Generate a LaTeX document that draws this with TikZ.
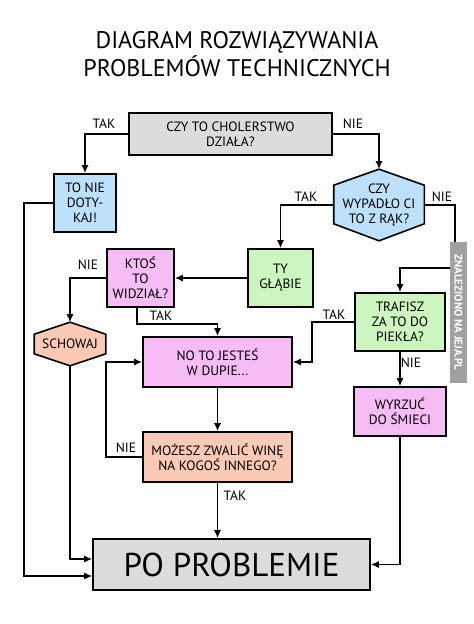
\documentclass[tikz,border=0pt]{standalone}
\usepackage{fontspec}
\setmainfont{PT Sans}
\usetikzlibrary{arrows.meta,positioning,calc,backgrounds}
\definecolor{boxgray}{RGB}{220,220,220}
\definecolor{boxblue}{RGB}{190,224,250}
\definecolor{boxgreen}{RGB}{204,245,192}
\definecolor{boxpink}{RGB}{245,188,245}
\definecolor{boxsalmon}{RGB}{250,202,182}
\definecolor{markgray}{RGB}{160,160,160}
\tikzset{
    % Basic box style
    box/.style={
        rectangle, draw=black, line width=1.6pt,
        align=center, inner sep=0pt,
        font=\fontsize{13.5}{15}\selectfont
    },
    graybox/.style={box, fill=boxgray},
    bluebox/.style={box, fill=boxblue},
    greenbox/.style={box, fill=boxgreen},
    pinkbox/.style={box, fill=boxpink},
    salmonbox/.style={box, fill=boxsalmon},
    % Hexagon (outline drawn separately)
    hexbox/.style={box, draw=none},
    hexline/.style={draw=black, line width=1.6pt},
    % Answer label style
    answer/.style={
        font=\fontsize{13.5}{15}\selectfont, inner sep=0pt
    },
    % Title style
    title/.style={
        align=center, font=\fontsize{24}{28}\selectfont
    },
    % Watermark style
    watermark/.style={
        rectangle, fill=markgray, text=white, rotate=-90,
        minimum width=141pt, minimum height=17pt, inner sep=0pt,
        font=\fontsize{11}{12}\selectfont\bfseries
    },
    % Flow arrows
    flow/.style={
        ->, >={Latex[length=8pt,width=7pt]}, line width=1.5pt, draw=black
    }
}
\begin{document}
\begin{tikzpicture}[x=1pt,y=-1pt]
\useasboundingbox (0,0) rectangle (474,624);

\node[title] (title) at (237,54) {DIAGRAM ROZWIĄZYWANIA\\PROBLEMÓW TECHNICZNYCH};

% Questions and answers
\node[graybox, minimum width=203pt, minimum height=42pt] (dziala) at (230.5,134) {CZY TO CHOLERSTWO\\DZIAŁA?};
\node[bluebox, minimum width=62pt, minimum height=58pt] (nietykaj) at (85,203) {TO NIE\\DOTY-\\KAJ!};
\node[hexbox, minimum width=89pt, minimum height=70pt] (wypadlo) at (379,205) {CZY\\WYPADŁO CI\\TO Z RĄK?};
\node[greenbox, minimum width=65pt, minimum height=58pt] (glab) at (280.5,278) {TY\\GŁĄBIE};
\node[pinkbox, minimum width=67pt, minimum height=58pt] (widzial) at (140.5,278) {KTOŚ\\TO\\WIDZIAŁ?};
\node[hexbox, minimum width=70pt, minimum height=42pt] (schowaj) at (70,344) {SCHOWAJ};
\node[greenbox, minimum width=90pt, minimum height=58pt] (pieklo) at (400,322) {TRAFISZ\\ZA TO DO\\PIEKŁA?};
\node[pinkbox, minimum width=149pt, minimum height=50pt] (dupa) at (217.5,362) {NO TO JESTEŚ\\W DUPIE...};
\node[pinkbox, minimum width=92pt, minimum height=49pt] (smieci) at (400,411.5) {WYRZUĆ\\DO ŚMIECI};
\node[salmonbox, minimum width=149pt, minimum height=50pt] (zwalic) at (217.5,457) {MOŻESZ ZWALIĆ WINĘ\\NA KOGOŚ INNEGO?};
\node[graybox, minimum width=277pt, minimum height=51pt, font=\fontsize{33}{34}\selectfont] (koniec) at (231.5,564.5) {PO PROBLEMIE};

% Hexagon outlines
\begin{scope}[on background layer]
\draw[hexline, fill=boxblue] (wypadlo.north) -- ([yshift=-16pt]wypadlo.north east) -- ([yshift=17pt]wypadlo.south east)
    -- (wypadlo.south) -- ([yshift=17pt]wypadlo.south west) -- ([yshift=-16pt]wypadlo.north west) -- cycle;
\draw[hexline, fill=boxsalmon] (schowaj.north) -- ([yshift=-12pt]schowaj.north east) -- ([yshift=12pt]schowaj.south east)
    -- (schowaj.south) -- ([yshift=12pt]schowaj.south west) -- ([yshift=-12pt]schowaj.north west) -- cycle;
\end{scope}

% Connectors
\draw[flow] (dziala.west) -| (nietykaj.north);
\draw[flow] (dziala.east) -| (wypadlo.north);
\draw[flow] (nietykaj.west) -- ++(-29,0) |- ([yshift=-11.5pt]koniec.west);
\draw[flow] (wypadlo.west) -| (glab.north);
\coordinate (zakret) at (455,268);
\draw[flow] (wypadlo.east) -| (zakret) -| (pieklo.north);
\draw[flow] (glab.west) -- (widzial.east);
\draw[flow] (widzial.west) -| (schowaj.north);
\draw[flow] ([xshift=-3.5pt]widzial.south) -- ++(0,16) -| (dupa.north);
\draw[flow] (schowaj.south) |- ([yshift=5.5pt]koniec.west);
\draw[flow] (pieklo.west) -- ++(-42,0) |- (dupa.east);
\draw[flow] (pieklo.south) -- (smieci.north);
\draw[flow] (dupa.south) -- (zwalic.north);
\draw[flow] (zwalic.west) -- ++(-36,0) |- (dupa.west);
\draw[flow] (zwalic.south) -- (zwalic.south |- koniec.north);
\draw[flow] (smieci.south) |- (koniec.east);

% Answer labels
\node[answer] (tak1) at (104,124) {TAK};
\node[answer] (nie1) at (353,124) {NIE};
\node[answer] (tak2) at (306,197) {TAK};
\node[answer] (nie2) at (442,197) {NIE};
\node[answer] (nie3) at (88,265) {NIE};
\node[answer] (tak3) at (161,316) {TAK};
\node[answer] (tak4) at (334,315) {TAK};
\node[answer] (nie4) at (411,363) {NIE};
\node[answer] (nie5) at (126,448) {NIE};
\node[answer] (tak5) at (235,496) {TAK};

% Watermark
\node[watermark] (jeja) at (458.5,312.5) {ZNALEZIONO NA JEJA.PL};

\end{tikzpicture}
\end{document}
